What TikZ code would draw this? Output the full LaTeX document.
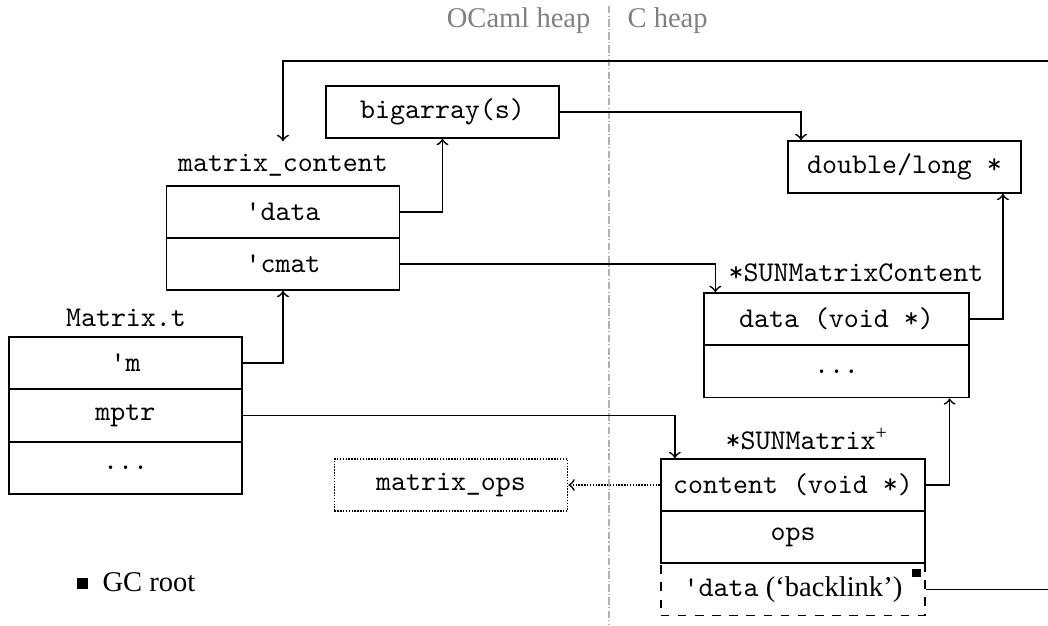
\documentclass[tikz,border=0pt]{standalone}
\usepackage{fontspec}
\setmainfont{Liberation Serif}
\usetikzlibrary{calc}
\tikzset{
  field/.style={draw, line width=0.6pt, minimum height=18.2pt, inner sep=0pt, font=\ttfamily},
  wA/.style={minimum width=81.6pt},
  wB/.style={minimum width=92.6pt},
  conn/.style={line width=0.6pt},
  lbl/.style={inner sep=0pt, font=\ttfamily},
  heap/.style={inner sep=0pt, text=black!50},
  root/.style={fill=black, minimum size=3.4pt, inner sep=0pt},
  divider/.style={draw=black!30, line width=0.4pt, dash pattern=on 2.6pt off 0.8pt on 0.4pt off 0.8pt}
}
\begin{document}
\begin{tikzpicture}[x=0.35pt, y=-0.35pt]
\useasboundingbox (0,0) rectangle (1048,625);
% divider
\draw[divider] (609,6) -- (609,625);
\node[heap, anchor=base east] (oh) at (591,27) {OCaml heap};
\node[heap, anchor=base west] (ch) at (627,27) {C heap};
% Matrix.t
\node[lbl] (mtl) at (126,318) {Matrix.t};
\node[field, wA] (mm) at (125.5,363) {'m};
\node[field, wA] (mptr) at (125.5,415.5) {mptr};
\node[field, wA] (mdots) at (125.5,468) {...};
% matrix_content
\node[lbl] (mcl) at (283,165) {matrix\_content};
\node[field, wA] (mc1) at (283,212) {'data};
\node[field, wA] (mc2) at (283,264) {'cmat};
% bigarray
\node[field, wA] (ba) at (442.5,112) {bigarray(s)};
% double/long
\node[field, wA] (dl) at (904.5,167) {double/long *};
% SUNMatrixContent
\node[lbl] (smcl) at (856,273) {*SUNMatrixContent};
\node[field, wB] (smc1) at (836.5,319) {data (void *)};
\node[field, wB] (smc2) at (836.5,371.5) {...};
% SUNMatrix
\node[lbl] (sml) at (807,439) {*SUNMatrix\textsuperscript{\rmfamily +}};
\node[field, wB] (sm1) at (793,485) {content (void *)};
\node[field, wB] (sm2) at (793,537) {ops};
\node[field, wB, dashed] (sm3) at (793,589.5) {'data{\rmfamily\ (`backlink')}};
\node[root, minimum size=3.1pt] (bl) at (916.5,573) {};
% matrix_ops
\node[field, wA, dash pattern=on 0.5pt off 0.5pt] (mo) at (451,485) {matrix\_ops};
% legend
\node[root, minimum size=3.8pt] (lg) at (82.5,583.5) {};
\node[inner sep=0pt, anchor=base west] (lgt) at (102,591) {GC root};
% wrap-around coordinates
\coordinate (edgeT) at (1048,61);
\coordinate (edgeB) at (1048,589.5);
% connectors
\draw[conn, ->] (mm.east) -| (mc2.south);
\draw[conn, ->] (mc1.east) -| (ba.south);
\draw[conn, ->] (ba.east) -| ($(dl.north west)+(14,0)$);
\draw[conn, ->] (mc2.east) -| ($(smc1.north west)+(12,0)$);
\draw[conn, ->] (smc1.east) -| ($(dl.south east)+(-19,0)$);
\draw[conn, ->] (mptr.east) -| ($(sm1.north west)+(15,0)$);
\draw[conn, ->] (sm1.east) -| ($(smc2.south east)+(-20,0)$);
\draw[conn, ->, dash pattern=on 0.5pt off 0.5pt] (sm1.west) -- (mo.east);
\draw[conn] (sm3.east) -- (edgeB);
\draw[conn, ->] (edgeT) -| ($(mc1.north)+(0,-44)$);
\end{tikzpicture}
\end{document}
